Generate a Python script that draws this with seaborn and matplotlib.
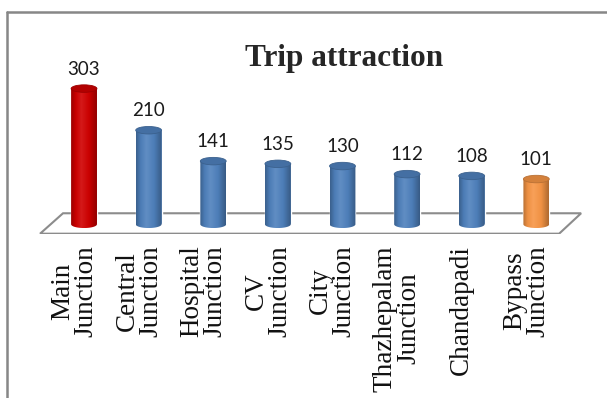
import numpy as np
import pandas as pd
import matplotlib
matplotlib.use("Agg")
import matplotlib.pyplot as plt
import seaborn as sns
from matplotlib.patches import Ellipse, Polygon, PathPatch
from matplotlib.path import Path
from matplotlib.colors import LinearSegmentedColormap, to_rgb
from matplotlib.lines import Line2D
from matplotlib.transforms import ScaledTranslation

# ---- data -------------------------------------------------------------
junctions = ["Main\nJunction", "Central\nJunction", "Hospital\nJunction",
             "CV\nJunction", "City\nJunction", "Thazhepalam\nJunction",
             "Chandapadi", "Bypass\nJunction"]
trips = [303, 210, 141, 135, 130, 112, 108, 101]
bar_colors = ["#D00000", "#4F81BD", "#4F81BD", "#4F81BD",
              "#4F81BD", "#4F81BD", "#4F81BD", "#F79646"]
title = "Trip attraction"

df = pd.DataFrame({"junction": junctions, "trips": trips})

sns.set_theme(style="white")
fig = plt.figure(figsize=(6.07, 3.98), dpi=100)
W, H = 607, 398
ax = fig.add_axes([37.5 / W, (H - 234) / H, 546 / W, 222 / H])

sns.barplot(data=df, x="junction", y="trips", hue="junction",
            palette=bar_colors, width=0.4, saturation=1, legend=False,
            ax=ax, zorder=2)

ax.set_xlim(-0.72, 7.73)
ax.set_ylim(-21.7, 474)
px_per_unit = 222 / (474 + 21.7)
ell_h = 7.5 / px_per_unit  # depth of the cylinder caps, in data units


def shade(c, f):
    r, g, b = to_rgb(c)
    if f < 1:
        return (r * f, g * f, b * f)
    return tuple(min(1, x + (1 - x) * (f - 1)) for x in (r, g, b))


bars = list(ax.patches)
for bar, col in zip(bars, bar_colors):
    x0, w, h = bar.get_x(), bar.get_width(), bar.get_height()
    xc = x0 + w / 2
    # cylinder body: side walls plus rounded bottom
    t = np.linspace(np.pi, 2 * np.pi, 40)
    arc = np.column_stack([xc + w / 2 * np.cos(t), ell_h / 2 * np.sin(t)])
    verts = np.vstack([[[x0, h]], arc, [[x0 + w, h]], [[x0, h]]])
    codes = [Path.MOVETO] + [Path.LINETO] * (len(verts) - 2) + [Path.CLOSEPOLY]
    body = PathPatch(Path(verts, codes), transform=ax.transData,
                     facecolor="none", edgecolor="none")
    ax.add_patch(body)
    cmap = LinearSegmentedColormap.from_list(
        "cyl", [(0, shade(col, 0.74)), (0.18, shade(col, 0.96)),
                (0.4, shade(col, 1.1)), (0.7, shade(col, 0.97)),
                (1, shade(col, 0.7))])
    im = ax.imshow(np.linspace(0, 1, 256)[None, :], extent=(x0, x0 + w, -ell_h / 2, h),
                   aspect="auto", cmap=cmap, interpolation="bilinear", zorder=2.5)
    im.set_clip_path(body)
    # top cap
    ax.add_patch(Ellipse((xc, h), w, ell_h, facecolor=shade(col, 0.86),
                         edgecolor=shade(col, 0.75), lw=0.6, zorder=3))
    ax.annotate(f"{h:.0f}", (xc, h), xytext=(0, 10), textcoords="offset points",
                ha="center", va="baseline", fontfamily="Lato", fontsize=13.5,
                color="#1a1a1a")

ax.set_xlim(-0.72, 7.73)
ax.set_ylim(-21.7, 474)

# floor of the chart
floor = Polygon([(-0.68, -21.0), (-0.325, 24.6), (7.693, 24.6), (7.353, -21.0)],
                closed=True, facecolor="white", edgecolor="#8c8c8c", lw=1.5, zorder=1)
ax.add_patch(floor)

ax.set_xticks(range(len(junctions)))
ax.set_xticklabels(junctions, rotation=90, va="top", ha="center",
                   multialignment="center", fontfamily="Liberation Serif",
                   fontsize=19.5, linespacing=0.92, color="#111111")
ax.tick_params(axis="x", length=0, pad=8)
offset = ScaledTranslation(-10 / 100, 0, fig.dpi_scale_trans)
for lab in ax.get_xticklabels():
    lab.set_transform(lab.get_transform() + offset)
ax.set_yticks([])
ax.set_xlabel("")
ax.set_ylabel("")
for s in ax.spines.values():
    s.set_visible(False)
ax.patch.set_alpha(0)

fig.text(344 / W, 1 - 66 / H, title, ha="center", va="baseline",
         fontfamily="Liberation Serif", fontweight="bold", fontsize=22.5)

# chart area frame
frame = dict(transform=fig.transFigure, color="#878787", lw=1.8)
fig.add_artist(Line2D([7 / W, 7 / W], [0, 1 - 12 / H], **frame))
fig.add_artist(Line2D([7 / W, 1], [1 - 12 / H, 1 - 12 / H], **frame))

fig.savefig("out.png", dpi=100)
